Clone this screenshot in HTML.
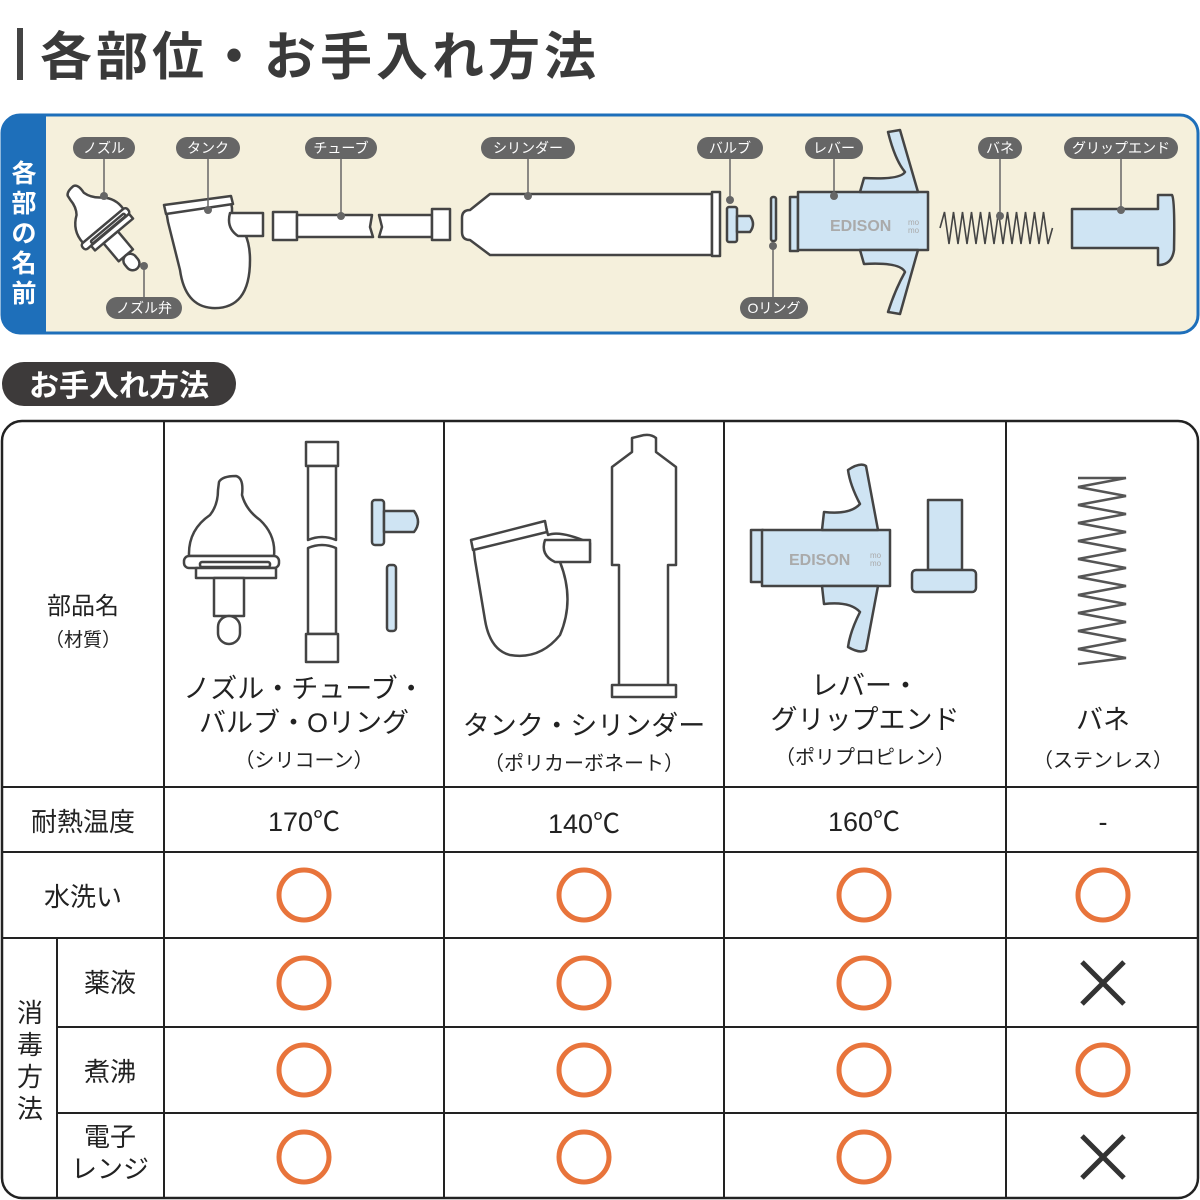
<!DOCTYPE html>
<html><head><meta charset="utf-8"><style>
body{margin:0;background:#fff;}
svg{display:block}
text{font-family:"Liberation Sans","Noto Sans CJK JP",sans-serif;}
</style></head><body>
<svg width="1200" height="1200" viewBox="0 0 1200 1200" xmlns="http://www.w3.org/2000/svg">
<defs>
<g id="nz">
<path d="M219 482 Q222 476 236 476 Q244 478 242 495 Q246 510 260 520 Q276 535 274 556 H189 Q188 530 210 515 Q218 505 218 490Z"/>
<rect x="184" y="556" width="95" height="12" rx="5"/>
<rect x="200" y="562" width="70" height="5" rx="2"/>
<rect x="196" y="568" width="80" height="10"/>
<rect x="214" y="578" width="30" height="38"/>
<rect x="218" y="616" width="22" height="28" rx="11"/>
</g>
</defs>
<!-- Title -->
<rect x="17" y="28" width="6" height="52" fill="#444"/>
<text x="40" y="75" font-size="52" font-weight="bold" fill="#3a3a3a" letter-spacing="4">各部位・お手入れ方法</text>

<!-- Parts panel -->
<rect x="2" y="115" width="1196" height="218" rx="18" fill="#f5f0dc" stroke="#1e6fba" stroke-width="3"/>
<path d="M20 115 H46 V333 H20 A18 18 0 0 1 2 315 V133 A18 18 0 0 1 20 115Z" fill="#1e6fba"/>
<g font-size="25" font-weight="bold" fill="#fff" text-anchor="middle">
<text x="24" y="182">各</text><text x="24" y="212">部</text><text x="24" y="242">の</text><text x="24" y="272">名</text><text x="24" y="302">前</text>
</g>
<g stroke="#444" stroke-width="2.5" fill="#fff" stroke-linejoin="round">
<!-- nozzle -->
<g transform="translate(102,226) rotate(-40) scale(0.62) translate(-230,-555)">
<use href="#nz" stroke-width="4"/>
</g>
<!-- tank -->
<path d="M166 210 L230 197 L232 208 L232 220 Q250 230 250 260 Q250 310 212 308 Q185 306 180 270 L168 222Z"/>
<path d="M164 205 L231 196 L233 204 L166 214Z"/>
<path d="M230 213 L263 213 L263 236 L238 236 Q226 228 230 213Z"/>
<!-- tube -->
<rect x="273" y="212" width="24" height="28"/>
<path d="M297 215 H372 L370 227 L373 237 H297Z"/>
<path d="M379 215 H432 V237 H379 L382 227Z"/>
<rect x="432" y="209" width="18" height="31"/>
<!-- cylinder -->
<path d="M462 218 Q462 210 470 210 L490 194 H712 V255 H490 L470 240 Q462 240 462 232Z"/>
<rect x="712" y="192" width="8" height="64"/>
</g>
<g stroke="#444" stroke-width="2.5" fill="#cfe4f3" stroke-linejoin="round">
<rect x="727" y="207" width="10" height="35" rx="2"/>
<path d="M737 216 H750 Q756 224 750 232 H737Z"/>
<rect x="771" y="197" width="5" height="44" rx="2"/>
<rect x="790" y="197" width="8" height="54"/>
<rect x="798" y="192" width="130" height="58"/>
<path d="M860 192 L864 178 Q900 180 905 172 Q895 160 888 132 L900 130 L918 192Z"/>
<path d="M860 250 L864 264 Q900 262 905 272 Q895 290 888 312 L900 314 L918 250Z"/>
<path d="M1072 209 H1158 V195 H1172 Q1175 200 1174 250 Q1172 264 1160 265 H1158 V248 H1072Z"/>
</g>
<text x="830" y="231" font-size="16" font-weight="bold" fill="#aaa">EDISON</text>
<text x="908" y="225" font-size="8" fill="#aaa">mo</text><text x="908" y="233" font-size="8" fill="#aaa">mo</text>
<polyline fill="none" stroke="#444" stroke-width="1.6" points="940,228 944.5,212 949,244 953.5,212 958,244 962.5,212 967,244 971.5,212 976,244 980.5,212 985,244 989.5,212 994,244 998.5,212 1003,244 1007.5,212 1012,244 1016.5,212 1021,244 1025.5,212 1030,244 1034.5,212 1039,244 1043.5,212 1048,244 1052.5,228"/>
<!-- leader lines -->
<g stroke="#666" stroke-width="1.5">
<line x1="104" y1="158" x2="104" y2="196"/><line x1="208" y1="158" x2="208" y2="210"/>
<line x1="341" y1="158" x2="341" y2="216"/><line x1="528" y1="158" x2="528" y2="196"/>
<line x1="730" y1="158" x2="730" y2="200"/><line x1="834" y1="158" x2="834" y2="196"/>
<line x1="1000" y1="158" x2="1000" y2="216"/><line x1="1121" y1="158" x2="1121" y2="210"/>
<line x1="144" y1="266" x2="144" y2="298"/><line x1="773" y1="246" x2="773" y2="298"/>
</g>
<g fill="#666">
<circle cx="104" cy="196" r="4"/><circle cx="208" cy="210" r="4"/><circle cx="341" cy="216" r="4"/><circle cx="528" cy="196" r="4"/><circle cx="730" cy="200" r="4"/><circle cx="834" cy="196" r="4"/><circle cx="1000" cy="216" r="4"/><circle cx="1121" cy="210" r="4"/><circle cx="144" cy="266" r="4"/><circle cx="773" cy="246" r="4"/>
<rect x="73" y="137" width="62" height="22" rx="11"/><rect x="176" y="137" width="64" height="22" rx="11"/>
<rect x="305" y="137" width="72" height="22" rx="11"/><rect x="481" y="137" width="94" height="22" rx="11"/>
<rect x="697" y="137" width="66" height="22" rx="11"/><rect x="805" y="137" width="58" height="22" rx="11"/>
<rect x="978" y="137" width="44" height="22" rx="11"/><rect x="1064" y="137" width="114" height="22" rx="11"/>
<rect x="106" y="297" width="76" height="22" rx="11"/><rect x="740" y="297" width="68" height="22" rx="11"/>
</g>
<g font-size="14" fill="#fff" text-anchor="middle">
<text x="104" y="153">ノズル</text><text x="208" y="153">タンク</text><text x="341" y="153">チューブ</text><text x="528" y="153">シリンダー</text>
<text x="730" y="153">バルブ</text><text x="834" y="153">レバー</text><text x="1000" y="153">バネ</text><text x="1121" y="153">グリップエンド</text>
<text x="144" y="313">ノズル弁</text><text x="774" y="313">Oリング</text>
</g>

<!-- Pill -->
<rect x="2" y="362" width="234" height="44" rx="22" fill="#3d3a3a"/>
<text x="119" y="396" font-size="30" font-weight="bold" fill="#fff" text-anchor="middle">お手入れ方法</text>

<!-- Table -->
<rect x="2" y="421" width="1196" height="777" rx="20" fill="#fff" stroke="#222" stroke-width="2.5"/>
<g stroke="#222" stroke-width="2">
<line x1="164" y1="421" x2="164" y2="1198"/><line x1="444" y1="421" x2="444" y2="1198"/>
<line x1="724" y1="421" x2="724" y2="1198"/><line x1="1006" y1="421" x2="1006" y2="1198"/>
<line x1="2" y1="787" x2="1198" y2="787"/><line x1="2" y1="852" x2="1198" y2="852"/>
<line x1="2" y1="938" x2="1198" y2="938"/>
<line x1="57" y1="1027" x2="1198" y2="1027"/><line x1="57" y1="1113" x2="1198" y2="1113"/>
<line x1="57" y1="938" x2="57" y2="1198"/>
</g>
<g fill="#222" text-anchor="middle">
<text x="83" y="614" font-size="24">部品名</text><text x="83" y="646" font-size="19">（材質）</text>
<text x="304" y="698" font-size="27">ノズル・チューブ・</text><text x="304" y="732" font-size="27">バルブ・Oリング</text><text x="304" y="767" font-size="20">（シリコーン）</text>
<text x="584" y="735" font-size="27">タンク・シリンダー</text><text x="584" y="770" font-size="20">（ポリカーボネート）</text>
<text x="865" y="695" font-size="27">レバー・</text><text x="865" y="729" font-size="27">グリップエンド</text><text x="865" y="764" font-size="20">（ポリプロピレン）</text>
<text x="1103" y="729" font-size="27">バネ</text><text x="1103" y="767" font-size="20">（ステンレス）</text>
<text x="83" y="831" font-size="26">耐熱温度</text>
<text x="304" y="831" font-size="27">170℃</text><text x="584" y="833" font-size="27">140℃</text><text x="864" y="831" font-size="27">160℃</text><text x="1103" y="831" font-size="27">-</text>
<text x="83" y="906" font-size="26">水洗い</text>
<text x="110" y="992" font-size="26">薬液</text><text x="110" y="1081" font-size="26">煮沸</text>
<text x="110" y="1146" font-size="26">電子</text><text x="110" y="1178" font-size="26">レンジ</text>
<text x="30" y="1022" font-size="26">消</text><text x="30" y="1054" font-size="26">毒</text><text x="30" y="1086" font-size="26">方</text><text x="30" y="1118" font-size="26">法</text>
</g>
<g fill="none" stroke="#e8743b" stroke-width="5">
<circle cx="304" cy="895" r="25"/><circle cx="584" cy="895" r="25"/><circle cx="864" cy="895" r="25"/><circle cx="1103" cy="895" r="25"/>
<circle cx="304" cy="983" r="25"/><circle cx="584" cy="983" r="25"/><circle cx="864" cy="983" r="25"/>
<circle cx="304" cy="1070" r="25"/><circle cx="584" cy="1070" r="25"/><circle cx="864" cy="1070" r="25"/><circle cx="1103" cy="1070" r="25"/>
<circle cx="304" cy="1157" r="25"/><circle cx="584" cy="1157" r="25"/><circle cx="864" cy="1157" r="25"/>
</g>
<g stroke="#333" stroke-width="5">
<line x1="1082" y1="962" x2="1124" y2="1004"/><line x1="1124" y1="962" x2="1082" y2="1004"/>
<line x1="1082" y1="1136" x2="1124" y2="1178"/><line x1="1124" y1="1136" x2="1082" y2="1178"/>
</g>

<!-- table illustrations -->
<g stroke="#444" stroke-width="2.5" fill="#fff" stroke-linejoin="round">
<use href="#nz"/>
<rect x="306" y="442" width="32" height="24"/>
<path d="M308 466 H336 V540 Q322 534 308 540Z"/>
<path d="M308 548 Q322 542 336 548 V634 H308Z"/>
<rect x="306" y="634" width="32" height="28"/>
<path d="M473 543 L545 523 L548 535 Q560 530 590 543 L590 560 L560 562 Q575 600 560 635 Q540 660 510 655 Q490 650 485 620 L475 560Z"/>
<path d="M471 540 L545 521 L547 532 L473 550Z"/>
<path d="M545 540 H590 V562 H555 Q540 555 545 540Z"/>
<path d="M640 436 Q650 433 656 438 V452 L676 467 V565 H668 V690 H619 V565 H612 V467 L632 452 V438Z"/>
<rect x="612" y="685" width="64" height="12"/>
</g>
<g stroke="#444" stroke-width="2.5" fill="#cfe4f3" stroke-linejoin="round">
<rect x="372" y="500" width="12" height="45" rx="3"/>
<path d="M384 511 H414 Q422 522 414 532 H384Z"/>
<rect x="387" y="565" width="9" height="66" rx="3"/>
<rect x="751" y="530" width="12" height="52"/>
<rect x="762" y="530" width="128" height="56"/>
<path d="M822 530 L824 512 Q850 515 860 504 Q850 485 848 470 Q860 462 866 466 L878 530Z"/>
<path d="M822 586 L824 604 Q850 601 860 612 Q850 632 848 647 Q860 654 866 650 L878 586Z"/>
<rect x="928" y="500" width="34" height="70"/>
<rect x="912" y="570" width="64" height="22" rx="4"/>
</g>
<text x="789" y="565" font-size="16" font-weight="bold" fill="#aaa">EDISON</text>
<text x="870" y="558" font-size="8" fill="#aaa">mo</text><text x="870" y="566" font-size="8" fill="#aaa">mo</text>
<polyline fill="none" stroke="#555" stroke-width="2.5" points="1078,478 1126,478 1078,487 1126,496 1078,505 1126,514 1078,523 1126,532 1078,541 1126,550 1078,559 1126,568 1078,577 1126,586 1078,595 1126,604 1078,613 1126,622 1078,631 1126,640 1078,649 1126,658 1078,664"/>
</svg>
</body></html>
